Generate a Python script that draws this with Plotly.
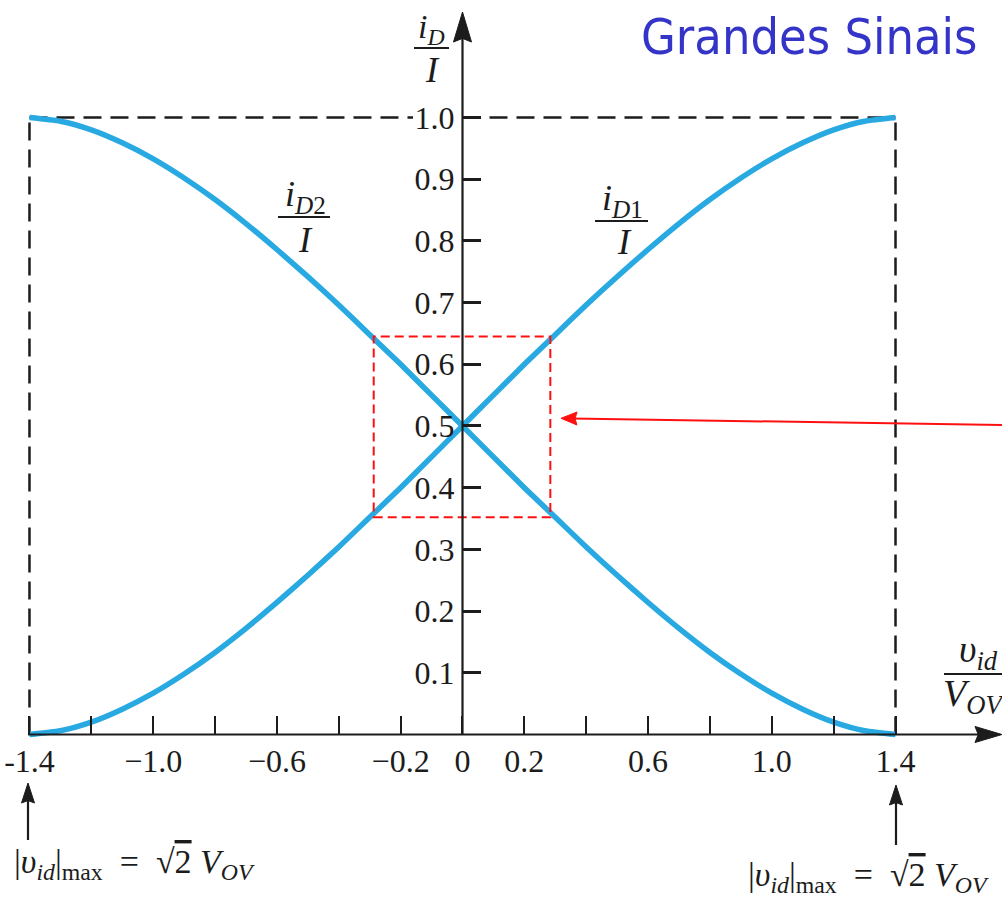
import plotly.graph_objects as go

# Normalised differential input v_id / V_OV
vid = [-1.4, -1.3, -1.2, -1.1, -1.0, -0.9, -0.8, -0.7, -0.6, -0.5, -0.4, -0.3, -0.2, -0.1,
       0.0, 0.1, 0.2, 0.3, 0.4, 0.5, 0.6, 0.7, 0.8, 0.9, 1.0, 1.1, 1.2, 1.3, 1.4]

# Normalised drain currents i_D1 / I and i_D2 / I
id1 = [0.000, 0.006, 0.020, 0.041, 0.067, 0.098, 0.133, 0.172, 0.214, 0.258, 0.304, 0.352,
       0.400, 0.450, 0.500, 0.550, 0.600, 0.648, 0.696, 0.742, 0.786, 0.828, 0.867, 0.902,
       0.933, 0.959, 0.980, 0.994, 1.000]
id2 = [1.000, 0.994, 0.980, 0.959, 0.933, 0.902, 0.867, 0.828, 0.786, 0.742, 0.696, 0.648,
       0.600, 0.550, 0.500, 0.450, 0.400, 0.352, 0.304, 0.258, 0.214, 0.172, 0.133, 0.098,
       0.067, 0.041, 0.020, 0.006, 0.000]

x_tick_vals = [-1.4, -1.2, -1.0, -0.8, -0.6, -0.4, -0.2, 0.0, 0.2, 0.4, 0.6, 0.8, 1.0, 1.2, 1.4]
x_tick_text = ["-1.4", "", "\u22121.0", "", "\u22120.6", "", "\u22120.2", "0", "0.2", "",
               "0.6", "", "1.0", "", "1.4"]
y_tick_vals = [0.1, 0.2, 0.3, 0.4, 0.5, 0.6, 0.7, 0.8, 0.9, 1.0]
y_tick_text = ["0.1", "0.2", "0.3", "0.4", "0.5", "0.6", "0.7", "0.8", "0.9", "1.0"]

# Limits of the full-swing region and the small-signal window
vid_max = 1.4
window_x = [-0.287, 0.284]
window_y = [0.352, 0.645]

W, H = 1002, 899
X_RANGE = [-1.4953, 1.7443]
Y_RANGE = [-0.2666, 1.1904]

INK = "#1c1c1c"
CURVE = "#29A9E1"
SERIF = "Liberation Serif, Times New Roman, serif"


def px(x):
    return x / W


def py(y):
    return 1 - y / H


x_axis_pos = (0 - Y_RANGE[0]) / (Y_RANGE[1] - Y_RANGE[0])
y_axis_pos = (0 - X_RANGE[0]) / (X_RANGE[1] - X_RANGE[0])

fig = go.Figure()
for ys in (id1, id2):
    fig.add_trace(go.Scatter(
        x=vid, y=ys, mode="lines",
        line=dict(color=CURVE, width=5.5, shape="spline", smoothing=0.6),
        hoverinfo="skip", showlegend=False,
    ))

shapes = []
dash_black = dict(color=INK, width=2.5, dash="18px,9px")
# dashed frame marking the full current-steering limits
shapes.append(dict(type="line", xref="x", yref="y", x0=-vid_max, x1=-vid_max, y0=0, y1=1,
                   line=dash_black, layer="below"))
shapes.append(dict(type="line", xref="x", yref="y", x0=vid_max, x1=vid_max, y0=0, y1=1,
                   line=dash_black, layer="below"))
shapes.append(dict(type="line", xref="x", yref="y", x0=-vid_max, x1=-0.16, y0=1, y1=1,
                   line=dash_black, layer="below"))
shapes.append(dict(type="line", xref="x", yref="y", x0=0, x1=vid_max, y0=1, y1=1,
                   line=dash_black, layer="below"))

# small-signal window
shapes.append(dict(type="rect", xref="x", yref="y", x0=window_x[0], x1=window_x[1],
                   y0=window_y[0], y1=window_y[1],
                   line=dict(color="#FF1010", width=2, dash="9px,5px")))


def seg(x0, y0, x1, y1, color=INK, width=2.2):
    return dict(type="line", xref="paper", yref="paper",
                x0=px(x0), y0=py(y0), x1=px(x1), y1=py(y1),
                line=dict(color=color, width=width))


def head(tx, ty, bx, by, hw, color=INK):
    # filled triangular arrow head from tip (tx,ty) back to base centre (bx,by)
    dx, dy = tx - bx, ty - by
    n = (dx * dx + dy * dy) ** 0.5
    nx, ny = -dy / n * hw, dx / n * hw
    pts = [(tx, ty), (bx + nx, by + ny), (bx + dx * 0.12, by + dy * 0.12), (bx - nx, by - ny)]
    path = "M " + " L ".join(f"{px(a):.5f},{py(b):.5f}" for a, b in pts) + " Z"
    return dict(type="path", xref="paper", yref="paper", path=path,
                fillcolor=color, line=dict(color=color, width=1))


# axes drawn as arrows
shapes.append(seg(462.5, 735, 462.5, 35))
shapes.append(head(462.5, 12, 462.5, 42, 9))
shapes.append(seg(28, 734.5, 985, 734.5))
shapes.append(head(1002, 734.5, 975, 734.5, 8))

# pointer to the small-signal window
shapes.append(seg(1003, 425, 572, 418.5, color="#FF1010", width=2))
shapes.append(head(561, 418.3, 577, 418.5, 6.5, color="#FF1010"))

# arrows pointing at +/- vid_max
shapes.append(seg(28, 840, 28, 795))
shapes.append(head(28, 783, 28, 803, 6.5))
shapes.append(seg(896, 845, 896, 797))
shapes.append(head(896, 785, 896, 805, 6.5))

# fraction bars
shapes.append(seg(414, 48, 449, 48, width=1.8))
shapes.append(seg(278, 217, 330, 217, width=1.8))
shapes.append(seg(595, 221, 648, 221, width=1.8))
shapes.append(seg(944, 674, 1010, 674, width=1.8))

ann = []


def label(x, y, text, size=36, xanchor="center", color=INK, family=SERIF):
    ann.append(dict(x=px(x), y=py(y), xref="paper", yref="paper", text=text,
                    showarrow=False, xanchor=xanchor, yanchor="middle",
                    font=dict(family=family, size=size, color=color)))


label(809, 37, "Grandes Sinais", size=50, color="#3434C8",
      family="DejaVu Sans Condensed, Roboto, sans-serif")

label(431, 29, "<i>i</i><sub><i>D</i></sub>", size=34)
label(432, 70, "<i>I</i>")
label(305, 197, "<i>i</i><sub><i>D</i>2</sub>")
label(305, 240, "<i>I</i>")
label(622, 200, "<i>i</i><sub><i>D</i>1</sub>")
label(624, 242, "<i>I</i>")
label(978, 652, "<i>\u03c5</i><sub><i>id</i></sub>", size=38)
label(973, 696, "<i>V</i><sub><i>OV</i></sub>", size=38)

vmax_text = ("|<i>\u03c5</i><sub><i>id</i></sub>|<sub>max</sub>  =  \u221a"
             "<span style='text-decoration:overline'>2</span> <i>V</i><sub><i>OV</i></sub>")
label(12, 864, vmax_text, size=34, xanchor="left")
label(746, 877, vmax_text, size=34, xanchor="left")

tickfont = dict(family=SERIF, size=32, color=INK)
fig.update_layout(
    width=W, height=H,
    margin=dict(l=0, r=0, t=0, b=0),
    paper_bgcolor="white", plot_bgcolor="white",
    showlegend=False,
    shapes=shapes, annotations=ann,
    xaxis=dict(range=X_RANGE, showgrid=False, zeroline=False, showline=False,
               anchor="free", position=x_axis_pos,
               tickmode="array", tickvals=x_tick_vals, ticktext=x_tick_text,
               ticks="inside", ticklen=19, tickwidth=2, tickcolor=INK,
               tickfont=tickfont, ticklabelstandoff=4, fixedrange=True),
    yaxis=dict(range=Y_RANGE, showgrid=False, zeroline=False, showline=False,
               anchor="free", position=y_axis_pos, side="left",
               tickmode="array", tickvals=y_tick_vals, ticktext=y_tick_text,
               ticks="inside", ticklen=18, tickwidth=2.5, tickcolor=INK,
               tickfont=tickfont, ticklabelstandoff=8, fixedrange=True),
)

fig.write_html("out.html")
